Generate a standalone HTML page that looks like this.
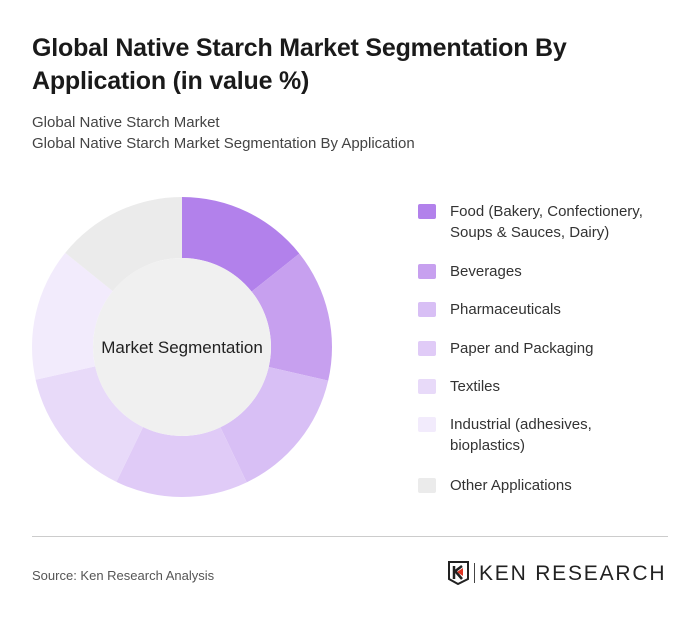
<!DOCTYPE html>
<html><head><meta charset="utf-8"><style>
body{margin:0;width:700px;height:621px;background:#fff;font-family:"Liberation Sans",sans-serif;position:relative;overflow:hidden}
.t{position:absolute;left:32px;top:32px;font-size:25px;font-weight:bold;color:#1a1a1a;line-height:33px;letter-spacing:-0.2px}
.s{position:absolute;left:32px;font-size:15px;color:#444}
.lg{position:absolute;left:420px;font-size:15px;color:#333;line-height:21px}
.sw{position:absolute;left:-2px;top:3px;width:18px;height:15px;border-radius:2px}
.lg span.tx{position:absolute;left:30px;top:0;white-space:nowrap}
</style></head><body>
<div class="t">Global Native Starch Market Segmentation By<br>Application (in value %)</div>
<div class="s" style="top:114px">Global Native Starch Market</div>
<div class="s" style="top:135px">Global Native Starch Market Segmentation By Application</div>
<svg id="chart" width="700" height="621" style="position:absolute;left:0;top:0"></svg>
<div id="legend"></div>
<div style="position:absolute;left:32px;top:536px;width:636px;height:1px;background:#ccc"></div>
<div style="position:absolute;left:32px;top:568px;font-size:13px;color:#555">Source: Ken Research Analysis</div>
<div style="position:absolute;left:448px;top:561px">
<svg width="22" height="24" viewBox="0 0 22 24"><path d="M1 1H20V18L10 23L1 18Z" fill="none" stroke="#222" stroke-width="2"/><path d="M6 5V18M6 11L14 5M8 11L14 18" stroke="#222" stroke-width="2.5" fill="none"/><path d="M9 11L15 7V15Z" fill="#d32"/></svg>
<div style="position:absolute;left:26px;top:2px;width:1px;height:20px;background:#444"></div>
<div style="position:absolute;left:31px;top:1px;font-size:21px;letter-spacing:1.8px;color:#222;white-space:nowrap">KEN RESEARCH</div>
</div>
<script>
const categories=["Food (Bakery, Confectionery,|Soups & Sauces, Dairy)","Beverages","Pharmaceuticals","Paper and Packaging","Textiles","Industrial (adhesives,|bioplastics)","Other Applications"];
const values=[14.3,14.3,14.3,14.3,14.3,14.3,14.2];
const colors=["#b281eb","#c7a0ef","#d8bff5","#e0cbf7","#e8daf9","#f2ebfc","#ebebeb"];
const legendTops=[201,261,299,338,376,414,475];
const svg=document.getElementById('chart');const NS="http://www.w3.org/2000/svg";
const cx=182,cy=347,R=150,r=89;
const tot=values.reduce((a,b)=>a+b,0);let a0=0;
values.forEach((v,i)=>{const a1=a0+v/tot*2*Math.PI;
const p=(a,rr)=>[cx+rr*Math.sin(a),cy-rr*Math.cos(a)];
const [x1,y1]=p(a0,R),[x2,y2]=p(a1,R),[x3,y3]=p(a1,r),[x4,y4]=p(a0,r);const lf=a1-a0>Math.PI?1:0;
const el=document.createElementNS(NS,'path');
el.setAttribute('d',`M${x1},${y1}A${R},${R} 0 ${lf} 1 ${x2},${y2}L${x3},${y3}A${r},${r} 0 ${lf} 0 ${x4},${y4}Z`);
el.setAttribute('fill',colors[i]);


svg.appendChild(el);a0=a1;});
const c=document.createElementNS(NS,'circle');c.setAttribute('cx',cx);c.setAttribute('cy',cy);c.setAttribute('r',r);c.setAttribute('fill','#f0f0f0');


svg.appendChild(c);
const t=document.createElementNS(NS,'text');t.setAttribute('x',cx);t.setAttribute('y',cy+6);t.setAttribute('text-anchor','middle');t.setAttribute('font-size','17');t.setAttribute('fill','#222');t.setAttribute('font-family','Liberation Sans, sans-serif');t.textContent='Market Segmentation';


svg.appendChild(t);
const lg=document.getElementById('legend');
categories.forEach((cat,i)=>{const d=document.createElement('div');d.className='lg';d.style.top=legendTops[i]+'px';


d.innerHTML=`<div class="sw" style="background:${colors[i]}"></div><span class="tx">${cat.split('|').join('<br>')}</span>`;lg.appendChild(d);});
</script>
</body></html>
